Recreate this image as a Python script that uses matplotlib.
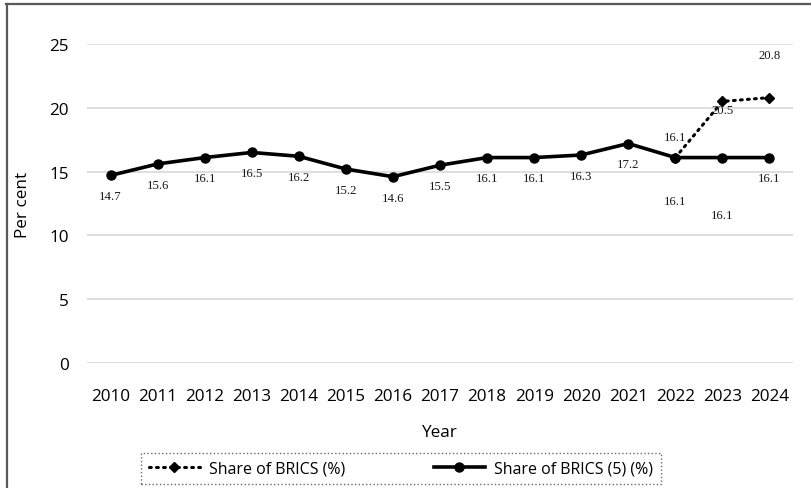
import matplotlib
matplotlib.use("Agg")
import matplotlib.pyplot as plt
from matplotlib.lines import Line2D

years = [2010, 2011, 2012, 2013, 2014, 2015, 2016, 2017, 2018, 2019, 2020, 2021, 2022, 2023, 2024]
brics5 = [14.7, 15.6, 16.1, 16.5, 16.2, 15.2, 14.6, 15.5, 16.1, 16.1, 16.3, 17.2, 16.1, 16.1, 16.1]
brics_years = [2022, 2023, 2024]
brics = [16.1, 20.5, 20.8]
yticks = [0, 5, 10, 15, 20, 25]
series_names = ["Share of BRICS (%)", "Share of BRICS (5) (%)"]

# label vertical offsets (points), styling only
off5 = [-15, -15, -15, -15, -15, -15, -15, -15, -15, -15, -15, -15, -31, -41, -15]
offb = [15, -6, 31]

sans = ["Open Sans", "DejaVu Sans"]
serif = ["Liberation Serif", "DejaVu Serif"]

W, H = 811, 489
fig = plt.figure(figsize=(W / 100, H / 100), dpi=100)
ax = fig.add_axes([87 / W, 1 - 364 / H, 706 / W, 319 / H])

ax.set_xlim(2009.5, 2024.5)
ax.set_ylim(0, 25)
ax.set_yticks(yticks)
ax.set_xticks(years)
ax.set_xticklabels([str(y) for y in years])
ax.grid(axis="y", color="#d9d9d9", lw=1.2)
ax.set_axisbelow(True)
for s in ax.spines.values():
    s.set_visible(False)
ax.tick_params(axis="both", length=0, labelsize=12.3, colors="#000000")
ax.tick_params(axis="y", pad=13)
ax.tick_params(axis="x", pad=18)
for lab in ax.get_xticklabels() + ax.get_yticklabels():
    lab.set_family(sans)

ax.plot(brics_years, brics, color="black", lw=2.2, linestyle=(0, (0.6, 1.7)),
        dash_capstyle="round", marker="D", markersize=5.5, zorder=3)
ax.plot(years, brics5, color="black", lw=2.6, marker="o", markersize=6.5,
        solid_joinstyle="round", zorder=4)

for x, v, o in zip(years, brics5, off5):
    ax.annotate(f"{v:.1f}", (x, v), xytext=(0, o), textcoords="offset points",
                ha="center", va="center", fontsize=9.2, family=serif, color="#1a1a1a")
for x, v, o in zip(brics_years, brics, offb):
    ax.annotate(f"{v:.1f}", (x, v), xytext=(0, o), textcoords="offset points",
                ha="center", va="center", fontsize=9.2, family=serif, color="#1a1a1a")

fig.text(23 / W, 1 - 205 / H, "Per cent", family=sans, fontsize=12.3, rotation=90,
         ha="center", va="center")
fig.text(440 / W, 1 - 433 / H, "Year", family=sans, fontsize=12.3, ha="center", va="center")

handles = [
    Line2D([], [], color="black", lw=2.2, linestyle=(0, (0.6, 1.7)), dash_capstyle="round",
           marker="D", markersize=5.5),
    Line2D([], [], color="black", lw=2.6, marker="o", markersize=6.5),
]
leg = fig.legend(handles, series_names, loc="center", bbox_to_anchor=(401 / W, 1 - 469.5 / H),
                 bbox_transform=fig.transFigure, ncol=2, frameon=True, fancybox=False,
                 prop={"family": sans, "size": 11.5}, handlelength=3.2, columnspacing=5.5,
                 borderpad=0.5, handletextpad=0.6)
fr = leg.get_frame()
fr.set_edgecolor("#444444")
fr.set_linestyle(":")
fr.set_linewidth(1.0)

# outer border (left and top edges)
fig.add_artist(Line2D([6.5 / W, 6.5 / W], [0, 1 - 5 / H], transform=fig.transFigure,
                      color="#595959", lw=1.6))
fig.add_artist(Line2D([6 / W, 1], [1 - 5 / H, 1 - 5 / H], transform=fig.transFigure,
                      color="#595959", lw=1.6))

fig.savefig("out.png", dpi=100)
